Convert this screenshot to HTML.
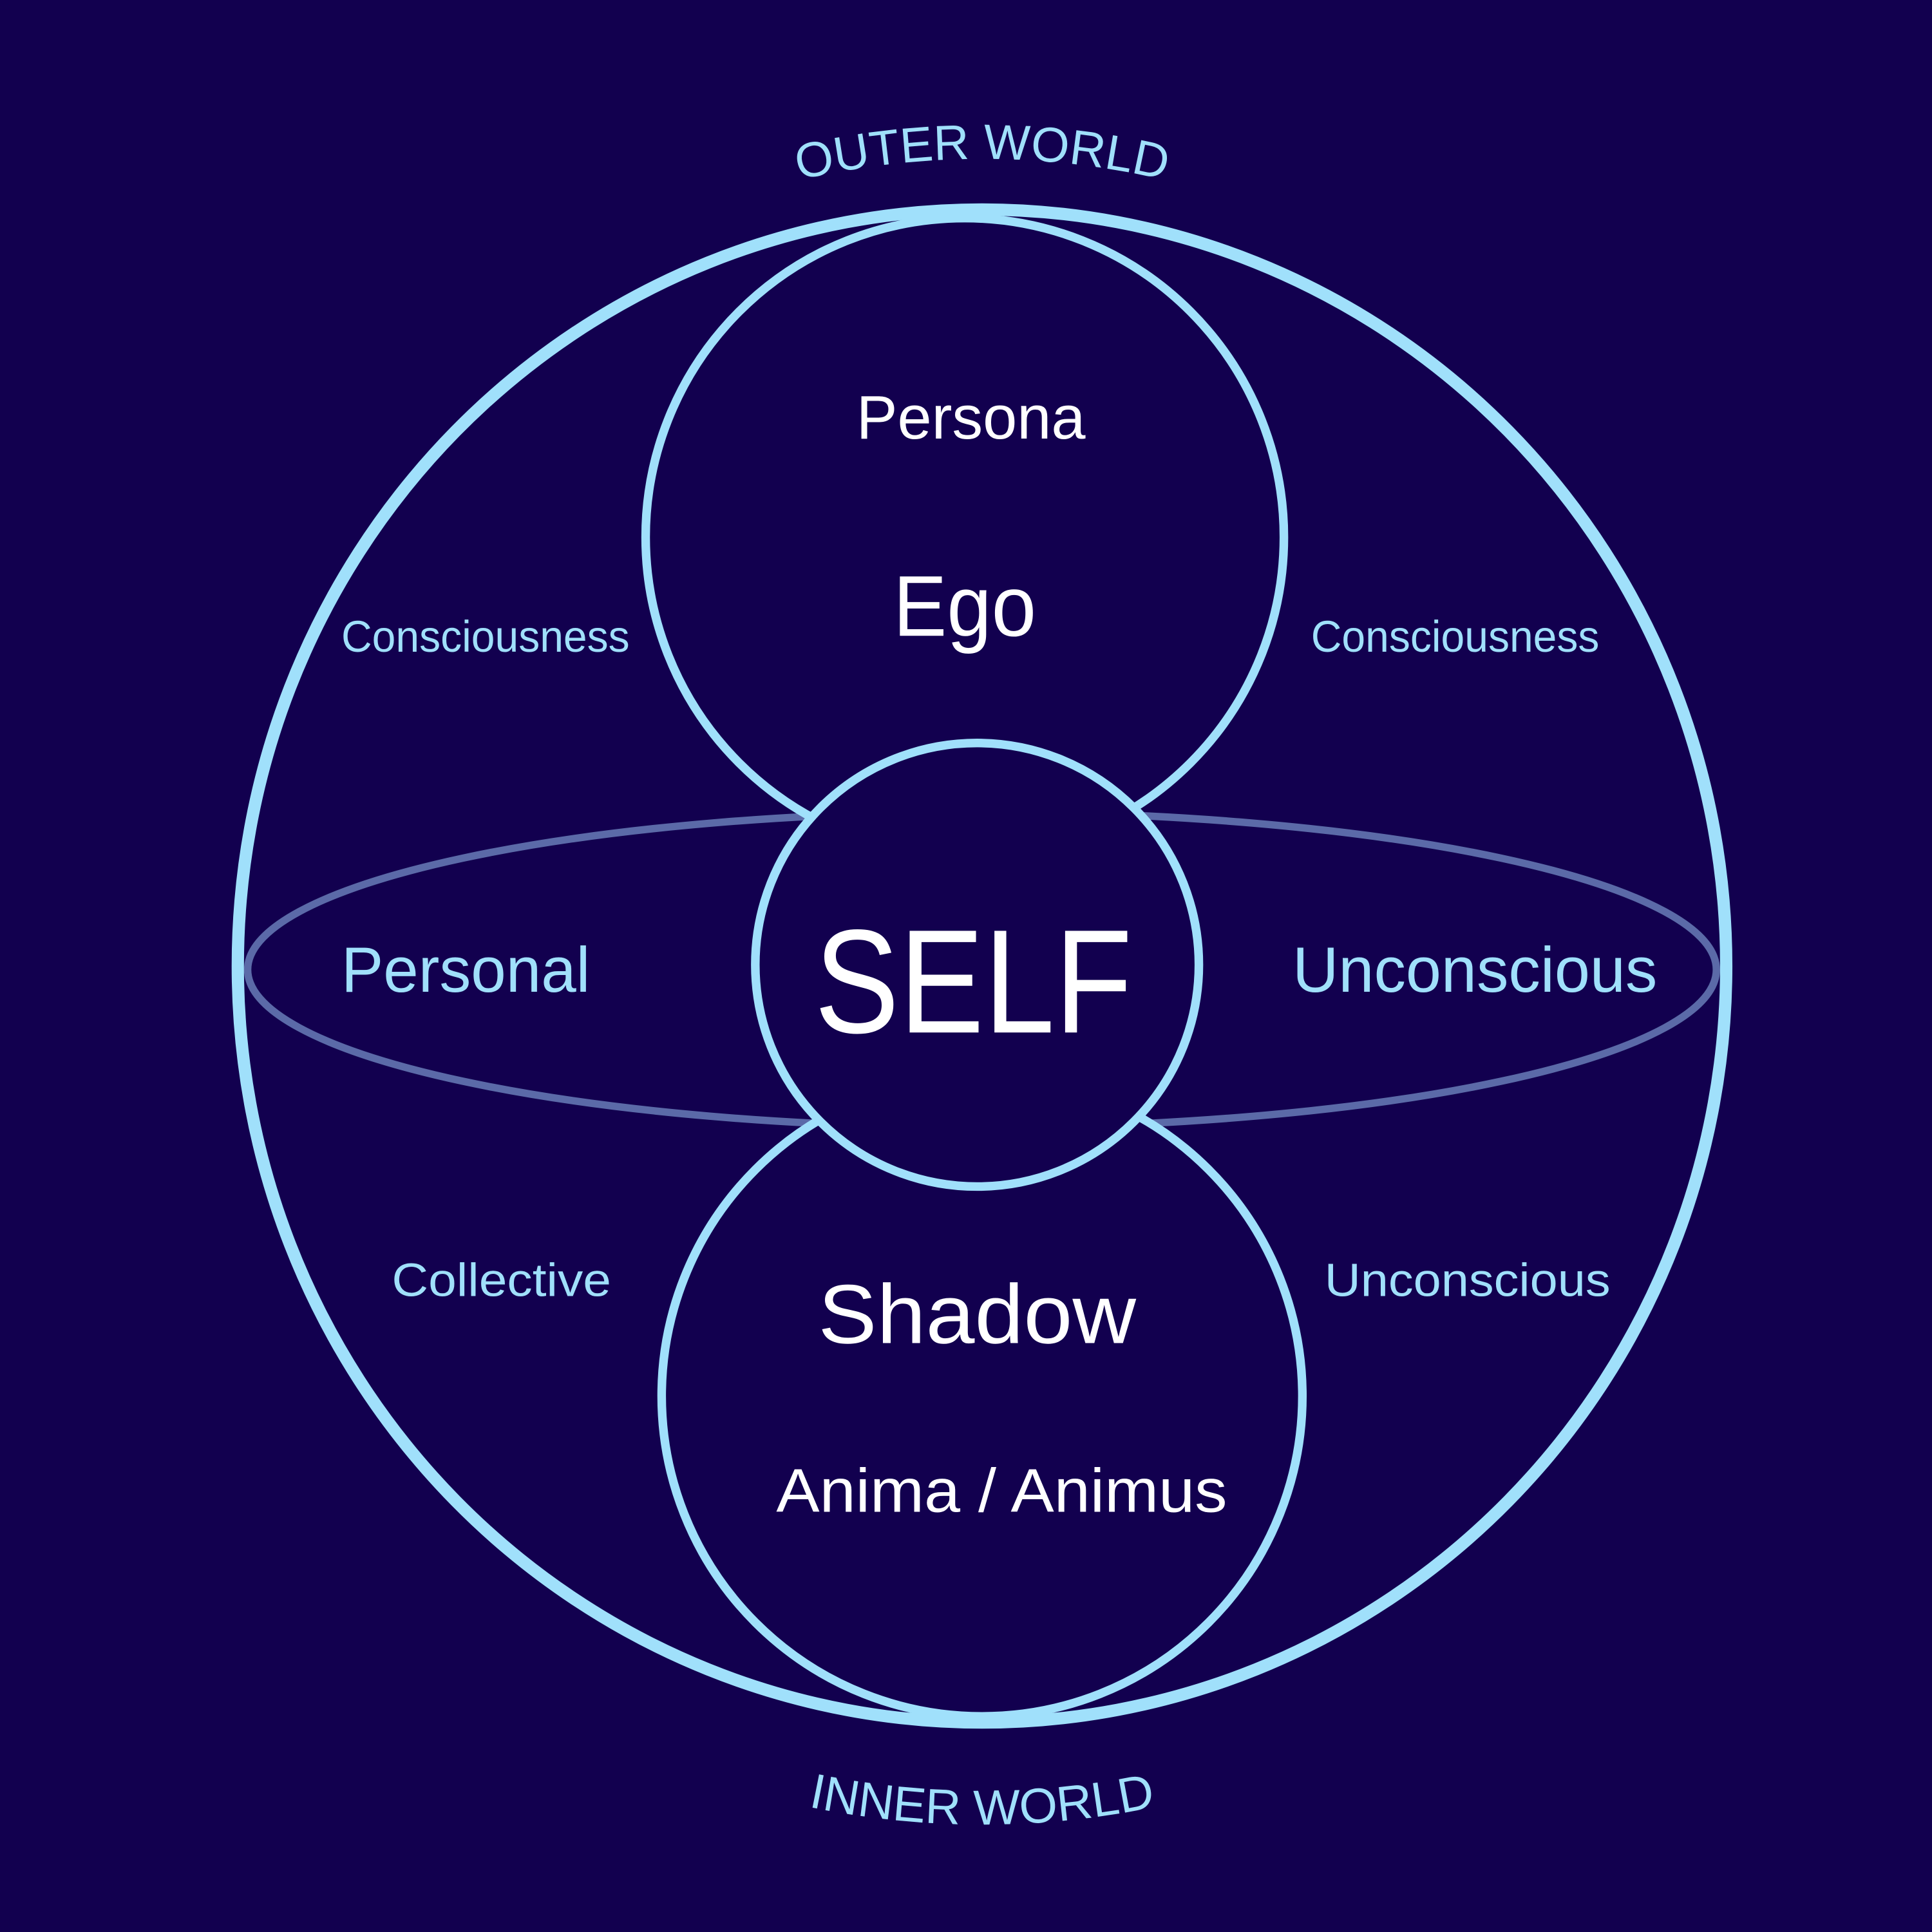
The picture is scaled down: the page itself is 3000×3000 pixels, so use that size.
<!DOCTYPE html>
<html><head><meta charset="utf-8"><style>
html,body{margin:0;padding:0;background:#12004f;}
svg{display:block;}
text{font-family:"Liberation Sans","DejaVu Sans",sans-serif;}
</style></head><body>
<svg width="3000" height="3000" viewBox="0 0 1568 1568" xmlns="http://www.w3.org/2000/svg">
<rect width="1568" height="1568" fill="#12004f"/>
<defs>
<path id="topArc" d="M 142 784 A 655 655 0 0 1 1452 784"/>
<path id="botArc" d="M 100 784 A 697 697 0 0 0 1494 784"/>
</defs>
<ellipse cx="797" cy="787" rx="596" ry="128" fill="none" stroke="#5b6aa8" stroke-width="6"/>
<ellipse cx="797" cy="784" rx="604" ry="614" fill="none" stroke="#a0e0fb" stroke-width="10"/>
<circle cx="783" cy="436" r="259" fill="#12004f" stroke="#a0e0fb" stroke-width="7"/>
<circle cx="797" cy="1133" r="260" fill="#12004f" stroke="#a0e0fb" stroke-width="7"/>
<circle cx="793" cy="783" r="180" fill="#12004f" stroke="#a0e0fb" stroke-width="7"/>
<g fill="#ffffff" text-anchor="middle">
<text x="788" y="356" font-size="50" textLength="186" lengthAdjust="spacingAndGlyphs">Persona</text>
<text x="783" y="516" font-size="70" textLength="116" lengthAdjust="spacingAndGlyphs">Ego</text>
<text x="790" y="838" font-size="120" textLength="258" lengthAdjust="spacingAndGlyphs">SELF</text>
<text x="793" y="1090" font-size="68" textLength="258" lengthAdjust="spacingAndGlyphs">Shadow</text>
<text x="813" y="1227" font-size="50" textLength="366" lengthAdjust="spacingAndGlyphs">Anima / Animus</text>
</g>
<g fill="#a0e0fb" text-anchor="middle">
<text x="378" y="805" font-size="52" textLength="202" lengthAdjust="spacingAndGlyphs">Personal</text>
<text x="1197" y="805" font-size="52" textLength="296" lengthAdjust="spacingAndGlyphs">Unconscious</text>
<text x="394" y="529" font-size="36" textLength="234" lengthAdjust="spacingAndGlyphs">Consciousness</text>
<text x="1181" y="529" font-size="36" textLength="234" lengthAdjust="spacingAndGlyphs">Consciousness</text>
<text x="407" y="1052" font-size="38" textLength="178" lengthAdjust="spacingAndGlyphs">Collective</text>
<text x="1191" y="1052" font-size="38" textLength="232" lengthAdjust="spacingAndGlyphs">Unconscious</text>
<text font-size="40"><textPath href="#topArc" startOffset="50%" text-anchor="middle">OUTER WORLD</textPath></text>
<text font-size="40"><textPath href="#botArc" startOffset="50%" text-anchor="middle">INNER WORLD</textPath></text>
</g>
</svg>
</body></html>
